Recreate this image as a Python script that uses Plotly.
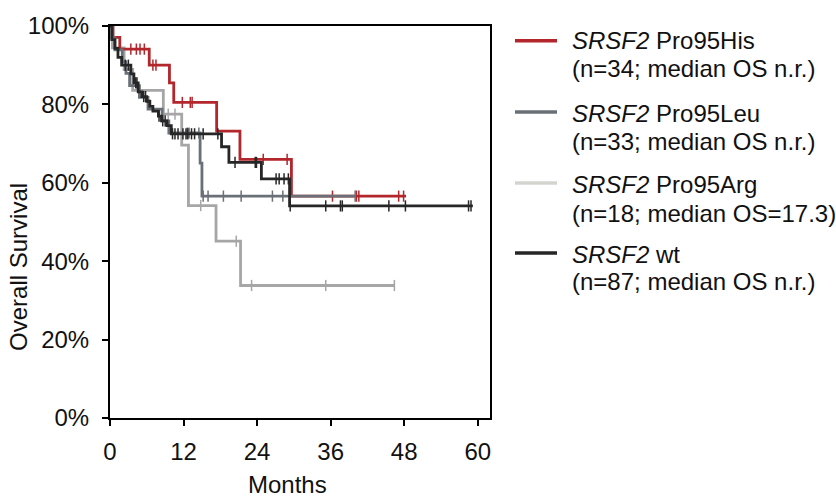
import plotly.graph_objects as go

W, H = 836, 501
ML, MR, MT, MB = 110, 346, 21, 83
PW, PH = W - ML - MR, H - MT - MB

month_ticks = [0, 12, 24, 36, 48, 60]
surv_ticks = [0, 20, 40, 60, 80, 100]
surv_labels = ["0%", "20%", "40%", "60%", "80%", "100%"]

# SRSF2 Pro95His
his_t = [0, 0.5, 1.6, 6.4, 9.7, 10.4, 17.4, 21.2, 29.6, 48.3]
his_s = [100, 97.1, 94.1, 90.0, 85.5, 80.5, 73.2, 66.0, 56.6, 56.6]
his_c = [3.4, 4.3, 4.9, 5.6, 7.0, 7.5, 11.8, 13.1, 13.4, 25.0, 28.9, 36.3, 40.2, 40.6, 47.1, 47.9]

# SRSF2 Pro95Leu
leu_t = [0, 0.3, 0.8, 2.0, 2.6, 3.2, 4.8, 6.2, 8.5, 9.6, 14.7, 15.0, 40.0]
leu_s = [100, 97.0, 93.9, 90.9, 87.9, 84.8, 81.8, 78.8, 75.8, 72.7, 65.0, 56.6, 56.6]
leu_c = [12.6, 12.9, 14.5, 15.2, 16.0, 18.5, 21.4, 26.5, 28.2, 40.0]

# SRSF2 Pro95Arg
arg_t = [0, 0.4, 2.3, 3.7, 8.7, 11.7, 12.8, 17.3, 21.3, 46.4]
arg_s = [100, 94.4, 88.9, 83.6, 77.5, 69.6, 54.2, 45.1, 33.8, 33.8]
arg_c = [9.5, 10.6, 14.8, 20.6, 23.1, 35.2, 46.4]

# SRSF2 wt
wt_t = [0, 0.3, 0.8, 1.3, 1.9, 3.4, 3.9, 4.6, 5.2, 6.0, 6.5, 7.0, 7.9, 8.4, 9.3, 10.0,
        18.2, 19.4, 24.7, 29.3, 59.2]
wt_s = [100, 96.5, 94.3, 92.0, 90.0, 87.8, 85.5, 83.2, 82.0, 80.8, 79.5, 78.3, 77.0, 75.8,
        74.6, 72.5, 69.2, 65.2, 61.0, 54.1, 54.1]
wt_c = [2.5, 3.0, 4.2, 4.4, 5.5, 5.8, 8.0, 8.6, 9.0, 10.2, 10.6, 11.1, 11.9, 12.4, 12.7,
        13.3, 13.8, 15.2, 17.6, 20.4, 23.7, 23.9, 27.1, 27.6, 28.4, 29.1, 29.4, 35.2, 37.6,
        37.9, 45.5, 48.2, 58.5, 58.9]

labels_1 = ["<i>SRSF2</i> Pro95His", "<i>SRSF2</i> Pro95Leu",
            "<i>SRSF2</i> Pro95Arg", "<i>SRSF2</i> wt"]
labels_2 = ["(n=34; median OS n.r.)", "(n=33; median OS n.r.)",
            "(n=18; median OS=17.3)", "(n=87; median OS n.r.)"]

C_HIS, C_LEU, C_ARG, C_WT = "#b3262b", "#6a7077", "#a6a6a6", "#262626"
LEG_COLORS = [C_HIS, C_LEU, "#d4d4cf", C_WT]

FONT = "Liberation Sans, Arial, sans-serif"
TXT = "#111111"


def level_at(ts, ss, c):
    v = ss[0]
    for t, s in zip(ts, ss):
        if t <= c:
            v = s
    return v


fig = go.Figure()
series = [
    (arg_t, arg_s, arg_c, C_ARG),
    (his_t, his_s, his_c, C_HIS),
    (leu_t, leu_s, leu_c, C_LEU),
    (wt_t, wt_s, wt_c, C_WT),
]
for ts, ss, cs, col in series:
    fig.add_trace(go.Scatter(x=ts, y=ss, mode="lines", line=dict(color=col, width=2.8, shape="hv"),
                             showlegend=False, hoverinfo="skip"))
    fig.add_trace(go.Scatter(x=cs, y=[level_at(ts, ss, c) for c in cs], mode="markers",
                             marker=dict(symbol="line-ns", size=8,
                                         line=dict(color=col, width=1.5)),
                             showlegend=False, hoverinfo="skip"))


def px2x(px):
    return (px - ML) / PW


def px2y(py):
    return (H - MB - py) / PH


ann = []
shapes = []
line_y = [36, 108, 180, 251]
t1_y = [36, 110, 182, 252]
t2_y = [64, 138, 211, 280]
for i in range(4):
    shapes.append(dict(type="line", xref="paper", yref="paper",
                       x0=px2x(515), x1=px2x(557), y0=px2y(line_y[i]), y1=px2y(line_y[i]),
                       line=dict(color=LEG_COLORS[i], width=3.5)))
    ann.append(dict(text=labels_1[i], xref="paper", yref="paper", x=px2x(570), y=px2y(t1_y[i]),
                    xanchor="left", yanchor="middle", showarrow=False,
                    font=dict(size=24, color=TXT, family=FONT)))
    ann.append(dict(text=labels_2[i], xref="paper", yref="paper", x=px2x(570), y=px2y(t2_y[i]),
                    xanchor="left", yanchor="middle", showarrow=False,
                    font=dict(size=24, color=TXT, family=FONT)))

ann.append(dict(text="Months", xref="paper", yref="paper", x=px2x(287), y=px2y(485),
                xanchor="center", yanchor="middle", showarrow=False,
                font=dict(size=24, color=TXT, family=FONT)))
ann.append(dict(text="Overall Survival", xref="paper", yref="paper", x=px2x(19), y=px2y(265),
                xanchor="center", yanchor="middle", showarrow=False, textangle=-90,
                font=dict(size=24, color=TXT, family=FONT)))

fig.update_layout(
    width=W, height=H,
    margin=dict(l=ML, r=MR, t=MT, b=MB),
    paper_bgcolor="white", plot_bgcolor="white",
    font=dict(family=FONT, size=24, color=TXT),
    annotations=ann, shapes=shapes,
    xaxis=dict(range=[0, 62], tickvals=month_ticks, ticks="outside", ticklen=6, tickwidth=2,
               tickcolor="black", showline=True, linecolor="black", linewidth=2, mirror=True,
               showgrid=False, zeroline=False, ticklabelstandoff=5,
               tickfont=dict(size=24, family=FONT, color=TXT)),
    yaxis=dict(range=[0, 100], tickvals=surv_ticks, ticktext=surv_labels, ticks="outside",
               ticklen=6, tickwidth=2, tickcolor="black", showline=True, linecolor="black",
               linewidth=2, mirror=True, showgrid=False, zeroline=False, ticklabelstandoff=8,
               tickfont=dict(size=24, family=FONT, color=TXT)),
)

fig.write_html("out.html", config={"displayModeBar": False},
               post_script="document.body.style.margin='0';")
